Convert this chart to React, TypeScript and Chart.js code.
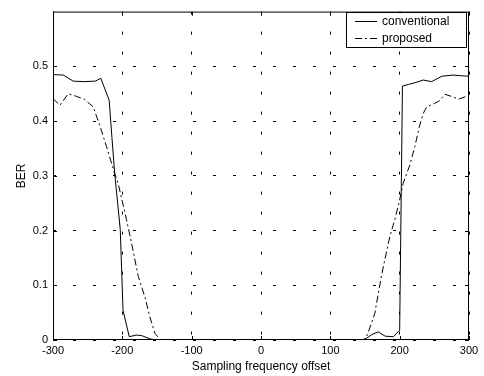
import React, { useEffect, useRef } from "react";
import { Chart, registerables } from "chart.js";
Chart.register(...registerables);

// ---- data ----
const convX = [-300, -285, -271, -256, -239, -231, -225, -219, -215, -211, -203, -199, -190, -180, -172, -160, -150, -100, 0, 100, 145, 152, 160, 169, 179, 191, 200, 204, 213, 222, 234, 246, 261, 277, 297, 300];
const convY = [0.485, 0.484, 0.473, 0.472, 0.473, 0.478, 0.458, 0.438, 0.37, 0.304, 0.202, 0.054, 0.006, 0.009, 0.008, 0.002, 0, 0, 0, 0, 0, 0.003, 0.01, 0.015, 0.007, 0.006, 0.018, 0.464, 0.467, 0.47, 0.475, 0.472, 0.482, 0.484, 0.482, 0.482];

const propX = [-300, -290, -278, -266, -255, -242, -232, -223, -211, -206, -194, -187, -177, -167, -161, -153, -145, -100, 0, 100, 150, 155, 164, 174, 179, 186, 193, 199.5, 205, 215, 222, 229, 234, 239, 250, 258, 265, 275, 285, 300];
const propY = [0.441, 0.429, 0.45, 0.445, 0.44, 0.426, 0.39, 0.354, 0.304, 0.286, 0.22, 0.179, 0.116, 0.077, 0.045, 0.012, 0, 0, 0, 0, 0, 0.015, 0.048, 0.119, 0.149, 0.19, 0.22, 0.253, 0.286, 0.321, 0.354, 0.393, 0.414, 0.426, 0.432, 0.4375, 0.449, 0.445, 0.44, 0.447];

const xTicks = [-300, -200, -100, 0, 100, 200, 300];
const yTicks = [0, 0.1, 0.2, 0.3, 0.4, 0.5];
const legendLabels = ["conventional", "proposed"];
const xTitle = "Sampling frequency offset";
const yTitle = "BER";

const FONT = "'Liberation Sans', Arial, Helvetica, sans-serif";
const PROP_DASH = [7, 3, 2, 3];

const framePlugin = {
  id: "frame",
  afterDraw(chart: any) {
    const { ctx, chartArea: a, scales } = chart;
    ctx.save();
    ctx.strokeStyle = "#000";
    ctx.lineWidth = 1;
    ctx.setLineDash([]);
    ctx.strokeRect(a.left + 0.5, a.top + 0.5, a.right - a.left - 1, a.bottom - a.top - 1);
    // inward tick marks
    const tl = 4;
    ctx.beginPath();
    for (const v of xTicks) {
      const px = Math.round(scales.x.getPixelForValue(v)) + 0.5;
      ctx.moveTo(px, a.bottom);
      ctx.lineTo(px, a.bottom - tl);
      ctx.moveTo(px, a.top);
      ctx.lineTo(px, a.top + tl);
    }
    for (const v of yTicks) {
      const py = Math.round(scales.y.getPixelForValue(v)) + 0.5;
      ctx.moveTo(a.left, py);
      ctx.lineTo(a.left + tl, py);
      ctx.moveTo(a.right, py);
      ctx.lineTo(a.right - tl, py);
    }
    ctx.stroke();

    // legend box
    const bx = 346, by = 12, bw = 120, bh = 35;
    ctx.fillStyle = "#fff";
    ctx.fillRect(bx, by, bw, bh);
    ctx.strokeRect(bx + 0.5, by + 0.5, bw, bh);
    const rows = [21.5, 38.5];
    const dashes = [[], PROP_DASH];
    ctx.font = "12px " + FONT;
    ctx.textBaseline = "middle";
    ctx.textAlign = "left";
    rows.forEach((ry, i) => {
      ctx.setLineDash(dashes[i]);
      ctx.beginPath();
      ctx.moveTo(355, ry);
      ctx.lineTo(377, ry);
      ctx.stroke();
      ctx.setLineDash([]);
      ctx.fillStyle = "#000";
      ctx.fillText(legendLabels[i], 382, ry);
    });
    ctx.restore();
  },
};

export default function App() {
  const ref = useRef<HTMLCanvasElement | null>(null);
  useEffect(() => {
    if (!ref.current) return;
    const chart = new Chart(ref.current, {
      type: "line",
      data: {
        datasets: [
          {
            label: legendLabels[0],
            data: convX.map((x, i) => ({ x, y: convY[i] })),
            borderColor: "#000",
            borderWidth: 1,
            pointRadius: 0,
            tension: 0,
            fill: false,
          },
          {
            label: legendLabels[1],
            data: propX.map((x, i) => ({ x, y: propY[i] })),
            borderColor: "#000",
            borderWidth: 1,
            borderDash: PROP_DASH,
            pointRadius: 0,
            tension: 0,
            fill: false,
          },
        ],
      },
      options: {
        animation: false,
        responsive: false,
        events: [],
        layout: { padding: { top: 5, right: 15, left: 0, bottom: 0 } },
        plugins: { legend: { display: false }, tooltip: { enabled: false } },
        scales: {
          x: {
            type: "linear",
            min: -300,
            max: 300,
            afterBuildTicks: (s: any) => {
              s.ticks = xTicks.map((v) => ({ value: v }));
            },
            afterFit: (s: any) => {
              s.height = 36;
            },
            grid: { color: "#000", lineWidth: 1, drawTicks: false },
            border: { display: false, dash: [3, 17] },
            ticks: {
              color: "#000",
              font: { family: FONT, size: 11 },
              padding: 4,
              maxRotation: 0,
              autoSkip: false,
              callback: (v: any) => String(v),
            },
            title: {
              display: true,
              text: xTitle,
              color: "#000",
              font: { family: FONT, size: 12 },
              padding: { top: 0, bottom: 2 },
            },
          },
          y: {
            type: "linear",
            min: 0,
            max: 0.6,
            afterBuildTicks: (s: any) => {
              s.ticks = yTicks.map((v) => ({ value: v }));
            },
            afterFit: (s: any) => {
              s.width = 53;
            },
            grid: { color: "#000", lineWidth: 1, drawTicks: false },
            border: { display: false, dash: [3, 17] },
            ticks: {
              color: "#000",
              font: { family: FONT, size: 11 },
              padding: 5,
              autoSkip: false,
              callback: (v: any) => String(Math.round(v * 10) / 10),
            },
            title: {
              display: true,
              text: yTitle,
              color: "#000",
              font: { family: FONT, size: 12 },
              padding: { top: 14, bottom: 0 },
            },
          },
        },
      },
      plugins: [framePlugin],
    } as any);
    return () => chart.destroy();
  }, []);
  return (
    <canvas
      ref={ref}
      width={484}
      height={376}
      style={{ position: "fixed", left: 0, top: 0, width: 484, height: 376, display: "block", background: "#fff" }}
    />
  );
}
